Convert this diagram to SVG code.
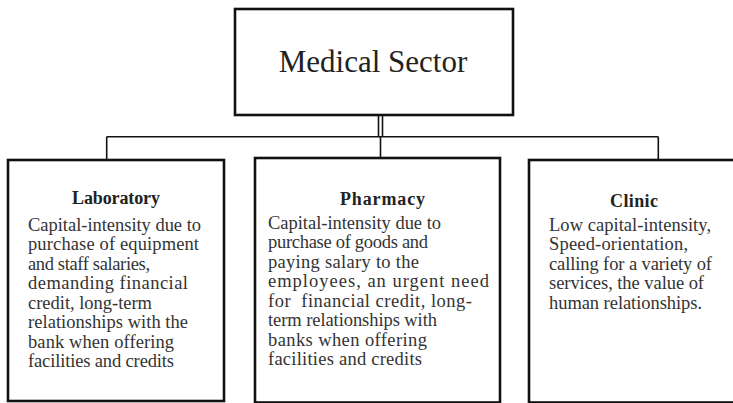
<svg xmlns="http://www.w3.org/2000/svg" width="733" height="403" viewBox="0 0 733 403">
  <style>
    .box { fill: #ffffff; stroke: #111111; stroke-width: 2.6; }
    .wire { fill: none; stroke: #111111; stroke-width: 1.6; }
    .title { font-family: "Liberation Serif", "Times New Roman", serif; font-size: 31px; fill: #222222; text-anchor: middle; }
    .head { font-family: "Liberation Serif", "Times New Roman", serif; font-size: 18px; font-weight: bold; fill: #222222; text-anchor: middle; }
    .body { font-family: "Liberation Serif", "Times New Roman", serif; font-size: 18.5px; fill: #333333; }
  </style>
  <rect width="733" height="403" fill="#ffffff"/>

  <!-- connectors -->
  <g id="connectors">
    <line class="wire" x1="378.5" y1="115" x2="378.5" y2="136.7"/>
    <line class="wire" x1="382.5" y1="115" x2="382.5" y2="136.7"/>
    <line class="wire" x1="106.7" y1="136.7" x2="658.3" y2="136.7"/>
    <line class="wire" x1="106.7" y1="136.7" x2="106.7" y2="160"/>
    <line class="wire" x1="380.5" y1="136.7" x2="380.5" y2="158"/>
    <line class="wire" x1="658.3" y1="136.7" x2="658.3" y2="160"/>
  </g>

  <!-- root -->
  <g id="medical-sector">
    <rect class="box" x="235" y="9" width="278" height="106" stroke-width="3"/>
    <text class="title" x="373" y="72">Medical Sector</text>
  </g>

  <g id="laboratory">
    <rect class="box" x="8" y="160" width="216" height="241"/>
    <text class="head" x="116" y="204" textLength="88" lengthAdjust="spacing">Laboratory</text>
    <text class="body" lengthAdjust="spacing">
      <tspan x="28" y="230.7" textLength="173">Capital-intensity due to</tspan>
    </text>
    <text class="body"><tspan x="28" y="250.2" textLength="171">purchase of equipment</tspan></text>
    <text class="body"><tspan x="28" y="269.7" textLength="122">and staff salaries,</tspan></text>
    <text class="body"><tspan x="28" y="289.2" textLength="160">demanding financial</tspan></text>
    <text class="body"><tspan x="28" y="308.7" textLength="124">credit, long-term</tspan></text>
    <text class="body"><tspan x="28" y="328.2" textLength="160">relationships with the</tspan></text>
    <text class="body"><tspan x="28" y="347.7" textLength="146">bank when offering</tspan></text>
    <text class="body"><tspan x="28" y="367.2" textLength="146">facilities and credits</tspan></text>
  </g>

  <g id="pharmacy">
    <rect class="box" x="255" y="158" width="245" height="244.5"/>
    <text class="head" x="382.5" y="205" textLength="85" lengthAdjust="spacing">Pharmacy</text>
    <text class="body"><tspan x="268" y="228.5" textLength="173">Capital-intensity due to</tspan></text>
    <text class="body"><tspan x="268" y="248" textLength="160">purchase of goods and</tspan></text>
    <text class="body"><tspan x="268" y="267.5" textLength="151">paying salary to the</tspan></text>
    <text class="body"><tspan x="268" y="287" textLength="221">employees, an urgent need</tspan></text>
    <text class="body"><tspan x="268" y="306.5" textLength="204">for &#160;financial credit, long-</tspan></text>
    <text class="body"><tspan x="268" y="326" textLength="169">term relationships with</tspan></text>
    <text class="body"><tspan x="268" y="345.5" textLength="159">banks when offering</tspan></text>
    <text class="body"><tspan x="268" y="365" textLength="154">facilities and credits</tspan></text>
  </g>

  <g id="clinic">
    <rect class="box" x="529" y="160" width="220" height="242.5"/>
    <text class="head" x="634" y="206.5" textLength="48" lengthAdjust="spacing">Clinic</text>
    <text class="body"><tspan x="549" y="230.5" textLength="162">Low capital-intensity,</tspan></text>
    <text class="body"><tspan x="549" y="250" textLength="139">Speed-orientation,</tspan></text>
    <text class="body"><tspan x="549" y="269.5" textLength="163">calling for a variety of</tspan></text>
    <text class="body"><tspan x="549" y="289" textLength="155">services, the value of</tspan></text>
    <text class="body"><tspan x="549" y="308.5" textLength="153">human relationships.</tspan></text>
  </g>
</svg>
